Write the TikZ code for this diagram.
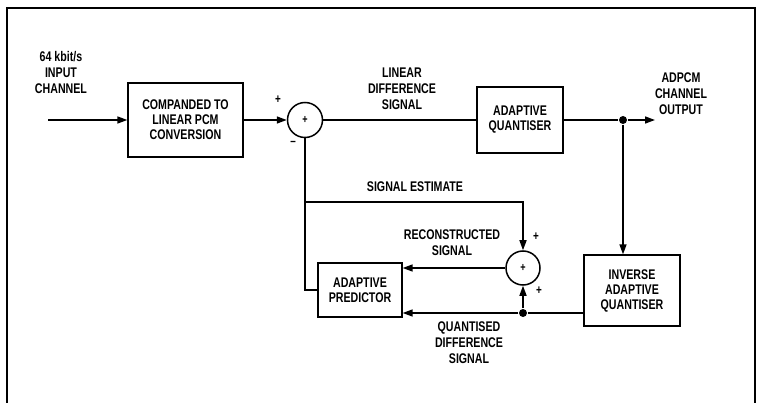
\documentclass[tikz,border=0pt]{standalone}
\usepackage{fontspec}
\newfontfamily\diafont{Liberation Sans}[FakeStretch=0.76]
\usetikzlibrary{arrows.meta, positioning}

\begin{document}
\begin{tikzpicture}[x=1pt, y=-1pt, line width=1.5pt,
  block/.style={draw, line width=1.3pt, align=center, inner sep=0pt, font=\diafont\bfseries\fontsize{14}{15}\selectfont},
  summer/.style={draw, circle, inner sep=0pt, font=\diafont\bfseries\fontsize{12}{12}\selectfont},
  lbl/.style={align=center, inner sep=0pt, font=\diafont\bfseries\fontsize{14}{16}\selectfont},
  sgn/.style={inner sep=0pt, font=\diafont\bfseries\fontsize{13}{13}\selectfont},
  arr/.style={-{Triangle[length=10pt,width=7pt]}},
  tap/.style={circle, fill, inner sep=0pt, minimum size=8pt}]
  \useasboundingbox (0,0) rectangle (757,403);

  % frame
  \draw[line width=1.3pt] (7,403) -- (7,8) -- (755,8) -- (755,403);

  % forward path
  \coordinate (in) at (48,120);
  \node[lbl] (inlbl) at (61,72) {64 kbit/s\\INPUT\\CHANNEL};
  \node[block, minimum width=115pt, minimum height=74pt] (compand) at (185.5,120) {COMPANDED TO\\LINEAR PCM\\CONVERSION};
  \node[summer, minimum size=35pt] (sum1) at (305,120) {+};
  \node[sgn] at (278,100) {+};
  \node[sgn] at (293,143) {\textendash};
  \node[lbl] (difflbl) at (402,89) {LINEAR\\DIFFERENCE\\SIGNAL};
  \node[block, minimum width=86pt, minimum height=66pt] (aq) at (520,120) {ADAPTIVE\\QUANTISER};
  \node[tap] (tap1) at (623,120) {};
  \coordinate (out) at (655,120);
  \node[lbl] (outlbl) at (681,94) {ADPCM\\CHANNEL\\OUTPUT};

  \draw[arr] (in) -- (compand);
  \draw[arr] (compand) -- (sum1);
  \draw (sum1) -- (aq);
  \draw (aq) -- (tap1);
  \draw[arr] (tap1) -- (out);

  % local decoder
  \node[block, minimum width=96pt, minimum height=71pt] (iaq) at (632,290.5) {INVERSE\\ADAPTIVE\\QUANTISER};
  \node[block, minimum width=84pt, minimum height=54pt] (pred) at (360,290) {ADAPTIVE\\PREDICTOR};
  \node[summer, minimum size=34pt] (sum2) at (523,268) {+};
  \node[sgn] at (536,237) {+};
  \node[sgn] at (539,291) {+};
  \node[tap] (tap2) at (523,313) {};
  \coordinate (est) at (305,202);
  \node[lbl] (estlbl) at (415,187) {SIGNAL ESTIMATE};
  \node[lbl] (reclbl) at (452,243) {RECONSTRUCTED\\SIGNAL};
  \node[lbl] (qdlbl) at (469,343) {QUANTISED\\DIFFERENCE\\SIGNAL};

  \draw[arr] (tap1) -- (tap1 |- iaq.north);
  \draw (iaq.west |- tap2) -- (tap2);
  \draw[arr] (tap2) -- (tap2 -| pred.east);
  \draw[arr] (tap2) -- (sum2);
  \draw[arr] (sum2) -- (sum2 -| pred.east);
  \draw (pred.west) -| (sum1.south);
  \draw[arr] (est) -| (sum2.north);
\end{tikzpicture}
\end{document}
